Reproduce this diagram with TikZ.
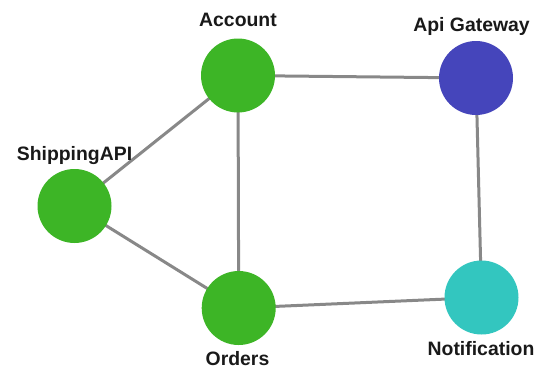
\documentclass[tikz,border=0pt]{standalone}
\usepackage{fontspec}
\setmainfont{Liberation Sans}
\definecolor{svcgreen}{HTML}{3DB526}
\definecolor{gateblue}{HTML}{4545BB}
\definecolor{notifteal}{HTML}{33C6BF}
\definecolor{linkgray}{HTML}{888888}
\pgfdeclarelayer{bg}
\pgfsetlayers{bg,main}
\begin{document}
\begin{tikzpicture}[x=1pt,y=-1pt,
  svc/.style={circle,minimum size=74pt,inner sep=0pt,draw=none},
  lbl/.style={anchor=base,font=\fontsize{19.4}{21}\selectfont\bfseries,text=black!90,inner sep=0pt},
  link/.style={draw=linkgray,line width=3pt}]
\useasboundingbox (0,0) rectangle (537,368);
% services
\node[svc,fill=svcgreen]  (account)  at (238,75.5) {};
\node[svc,fill=gateblue]  (gateway)  at (476,78) {};
\node[svc,fill=svcgreen]  (shipping) at (74.5,206) {};
\node[svc,fill=svcgreen]  (orders)   at (238.7,308) {};
\node[svc,fill=notifteal] (notify)   at (481.5,297.5) {};
% labels
\node[lbl] (laccount)  at (238,26)     {Account};
\node[lbl] (lgateway)  at (471.5,31.7) {Api Gateway};
\node[lbl] (lshipping) at (74.5,160)   {ShippingAPI};
\node[lbl] (lorders)   at (237.5,365)  {Orders};
\node[lbl] (lnotify)   at (481,355)    {Notification};
% connections behind the circles
\begin{pgfonlayer}{bg}
\draw[link] (account.center) -- (gateway.center);
\draw[link] (account.center) -- (shipping.center);
\draw[link] (account.center) -- (orders.center);
\draw[link] (shipping.center) -- (orders.center);
\draw[link] (orders.center) -- (notify.center);
\draw[link] (gateway.center) -- (notify.center);
\end{pgfonlayer}
\end{tikzpicture}
\end{document}
